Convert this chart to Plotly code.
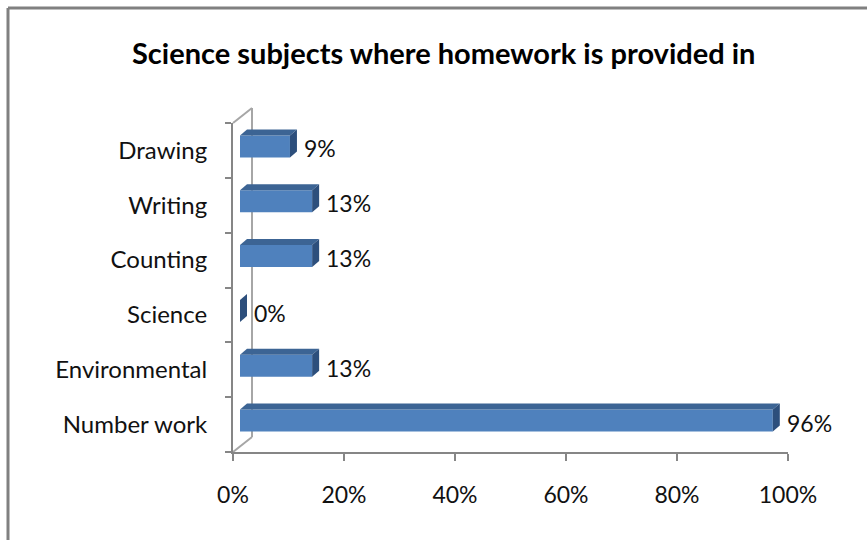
import plotly.graph_objects as go

# Survey results: share of respondents per subject
categories = ["Number work", "Environmental", "Science", "Counting", "Writing", "Drawing"]
values = [96, 13, 0, 13, 13, 9]
x_ticks = [0, 20, 40, 60, 80, 100]
x_tick_labels = ["0%", "20%", "40%", "60%", "80%", "100%"]
title_text = "Science subjects where homework is provided in"

W, H = 867, 540
FONT = "Lato"
GREY = "#868686"
FRONT = "#4F81BD"
TOP = "#3C6494"
SIDE = "#2D4F7C"
TEXT = "#111111"


def px(x):
    return x / W


def py(y):
    return 1 - y / H


# depth of the 3-D bar faces, in data units of the bar axes
BAR_W = 0.4
DX = 7 * 100 / 555.0      # 7 px along x
DY = 6 / 54.83            # 6 px along y

fig = go.Figure()

positions = list(range(len(categories)))

# front faces
fig.add_trace(go.Bar(
    x=values, y=positions, orientation="h", width=BAR_W,
    marker=dict(color=FRONT, line=dict(width=0)),
    xaxis="x2", yaxis="y2", hoverinfo="skip", showlegend=False,
))

# top and side faces
for v, p in zip(values, positions):
    top_y = p + BAR_W / 2
    bot_y = p - BAR_W / 2
    fig.add_trace(go.Scatter(
        x=[0, v, v + DX, DX, 0], y=[top_y, top_y, top_y + DY, top_y + DY, top_y],
        fill="toself", fillcolor=TOP, mode="lines", line=dict(width=0),
        xaxis="x2", yaxis="y2", hoverinfo="skip", showlegend=False,
    ))
    fig.add_trace(go.Scatter(
        x=[v, v + DX, v + DX, v, v], y=[bot_y, bot_y + DY, top_y + DY, top_y, bot_y],
        fill="toself", fillcolor=SIDE, mode="lines", line=dict(width=0),
        xaxis="x2", yaxis="y2", hoverinfo="skip", showlegend=False,
    ))

# category axis with visible labels (invisible placeholder trace)
fig.add_trace(go.Bar(
    x=[0] * len(categories), y=categories, orientation="h",
    marker=dict(color="rgba(0,0,0,0)"), hoverinfo="skip", showlegend=False,
))

annotations = []
for v, p in zip(values, positions):
    annotations.append(dict(
        x=v, y=p, xref="x2", yref="y2", text=f"{v}%", showarrow=False,
        xanchor="left", yanchor="middle", xshift=12, yshift=-2,
        font=dict(family=FONT, size=23, color=TEXT),
    ))

annotations.append(dict(
    x=px(443), y=py(52), xref="paper", yref="paper", text=f"<b>{title_text}</b>",
    showarrow=False, xanchor="center", yanchor="middle",
    font=dict(family=FONT, size=29, color="#000000"),
))

shapes = [
    # chart border
    dict(type="line", xref="paper", yref="paper", x0=px(8), y0=py(8), x1=1, y1=py(8),
         line=dict(color="#808080", width=3)),
    dict(type="line", xref="paper", yref="paper", x0=px(8), y0=py(8), x1=px(8), y1=0,
         line=dict(color="#808080", width=3)),
    # back wall and floor edges
    dict(type="line", xref="paper", yref="paper", x0=px(252), y0=py(108), x1=px(252), y1=py(437),
         line=dict(color="#A6A6A6", width=2), layer="below"),
    dict(type="line", xref="paper", yref="paper", x0=px(233), y0=py(123), x1=px(252), y1=py(108),
         line=dict(color="#A6A6A6", width=2), layer="below"),
    dict(type="line", xref="paper", yref="paper", x0=px(233), y0=py(452), x1=px(252), y1=py(437),
         line=dict(color="#A6A6A6", width=2), layer="below"),
]

fig.update_layout(
    template="none",
    width=W, height=H, autosize=False,
    margin=dict(l=0, r=0, t=0, b=0, pad=0),
    paper_bgcolor="white", plot_bgcolor="rgba(0,0,0,0)",
    font=dict(family=FONT, size=23, color=TEXT),
    barmode="overlay",
    xaxis=dict(
        domain=[px(233), px(788)], range=[0, 100], anchor="y", automargin=False,
        tickvals=x_ticks, ticktext=x_tick_labels,
        ticks="outside", ticklen=7, tickwidth=2, tickcolor=GREY,
        showline=True, linecolor=GREY, linewidth=2,
        showgrid=False, zeroline=False, ticklabelstandoff=14,
        tickfont=dict(family=FONT, size=23, color=TEXT),
    ),
    yaxis=dict(
        domain=[py(452), py(123)], anchor="x", automargin=False,
        type="category", categoryorder="array", categoryarray=categories,
        range=[-0.5, len(categories) - 0.5],
        tickson="boundaries", ticks="outside", ticklen=6, tickwidth=2, tickcolor=GREY,
        showline=True, linecolor=GREY, linewidth=2,
        showgrid=False, zeroline=False, ticklabelstandoff=19,
        tickfont=dict(family=FONT, size=24, color=TEXT),
    ),
    xaxis2=dict(domain=[px(240), px(795)], range=[0, 100], anchor="y2",
                visible=False, automargin=False),
    yaxis2=dict(domain=[py(448), py(119)], range=[-0.5, len(categories) - 0.5],
                anchor="x2", visible=False, automargin=False),
    annotations=annotations,
    shapes=shapes,
)

fig.write_html("out.html")
